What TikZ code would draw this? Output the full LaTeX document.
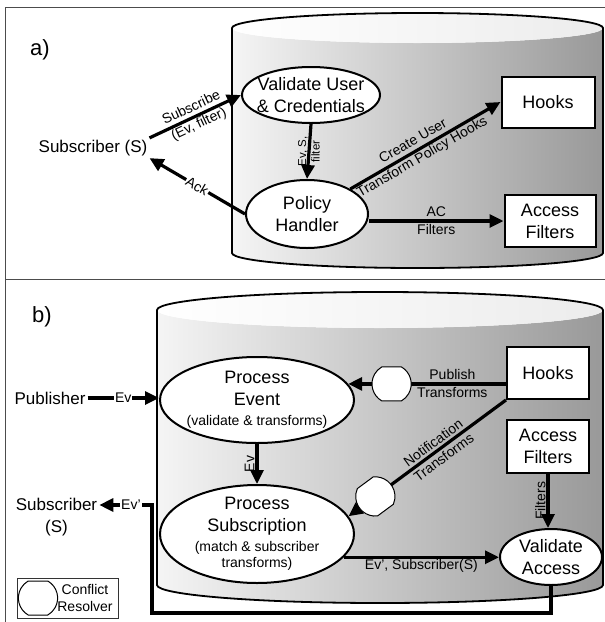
\documentclass[tikz,border=0pt]{standalone}
\usepackage{fontspec}
\setmainfont{Liberation Sans}
\usetikzlibrary{arrows.meta,shapes.geometric,shapes.misc}

\begin{document}
\begin{tikzpicture}[x=1pt,y=1pt,
		bigfont/.style={font=\fontsize{18}{22}\selectfont},
		outer/.style={font=\fontsize{17}{22}\selectfont, align=center, inner sep=2pt},
		lbl/.style={font=\fontsize{14}{18}\selectfont, align=center, inner sep=1pt},
		smalllbl/.style={font=\fontsize{11.5}{13.5}\selectfont, align=center, inner sep=1pt},
		proc/.style={ellipse, draw, line width=2pt, fill=white, inner sep=0pt, align=center, bigfont},
		store/.style={rectangle, draw, line width=2pt, fill=white, inner sep=0pt, align=center, bigfont},
		arr/.style={line width=3.2pt, -{Triangle[length=14pt,width=13pt]}},
		cr/.style={rounded rectangle, rounded rectangle arc length=120, draw, line width=1pt, fill=white, minimum width=32pt, minimum height=34pt, inner sep=0pt},
		panelline/.style={draw=black!70, line width=1pt}]
		\useasboundingbox (0,0) rectangle (605,-622);
		\draw[panelline] (608,-7) -- (5,-7) -- (5,-630); %枠
		\draw[panelline] (5,-279) -- (608,-279);
		% cylinder a
		\shade[left color=gray!8, right color=gray!80] (232,-28) -- (232,-253) arc[start angle=180, end angle=360, x radius=185.5, y radius=15] -- (603,-28) arc[start angle=0, end angle=-180, x radius=185.5, y radius=15] -- cycle;
		\shade[left color=white, right color=gray!15] (417.5,-28) ellipse[x radius=185.5, y radius=15];
		\draw[line width=1.8pt, line join=round] (232,-253) -- (232,-28) arc[start angle=180, end angle=0, x radius=185.5, y radius=15] -- (603,-253) arc[start angle=0, end angle=-180, x radius=185.5, y radius=15];
		% cylinder b
		\shade[left color=gray!8, right color=gray!80] (157,-310) -- (157,-585) arc[start angle=180, end angle=360, x radius=223, y radius=18] -- (603,-310) arc[start angle=0, end angle=-180, x radius=223, y radius=18] -- cycle;
		\shade[left color=white, right color=gray!15] (380,-310) ellipse[x radius=223, y radius=18];
		\draw[line width=1.8pt, line join=round] (157,-585) -- (157,-310) arc[start angle=180, end angle=0, x radius=223, y radius=18] -- (603,-585) arc[start angle=0, end angle=-180, x radius=223, y radius=18];

		\node[font=\fontsize{22}{24}\selectfont] (la) at (40,-50) {a)}; %a
		\node[outer] (suba) at (93,-148) {Subscriber (S)};
		\node[proc, minimum width=138pt, minimum height=56pt, inner xsep=-6pt] (vu) at (311,-95) {Validate User\\\& Credentials};
		\node[proc, minimum width=122pt, minimum height=68pt] (ph) at (307,-214) {Policy\\Handler};
		\node[store, minimum width=93pt, minimum height=51pt] (hka) at (548,-102) {Hooks};
		\node[store, minimum width=91pt, minimum height=52pt] (afa) at (550,-221) {Access\\Filters};
		\draw[arr] (suba.north east) -- node[lbl, sloped] {Subscribe\\(Ev, filter)} (vu.west);
		\draw[arr] (ph.west) -- node[lbl, sloped, fill=white] {Ack} (suba.south east);
		\draw[arr] (vu.south) -- node[smalllbl, rotate=90] {Ev, S,\\filter} (ph.north);
		\draw[arr] (ph.30) -- node[lbl, sloped, pos=0.45] {Create User\\Transform Policy Hooks} (hka.west);
		\draw[arr] (afa.west -| ph.east) -- node[lbl] {AC\\Filters} (afa.west);

		\node[font=\fontsize{22}{24}\selectfont] (lb) at (42,-317) {b)}; %b
		\node[outer] (pub) at (50,-398) {Publisher};
		\node[outer] (subb) at (56.5,-517.5) {Subscriber\\(S)};
		\node[proc, minimum width=194pt, minimum height=86pt, inner xsep=-2pt] (pe) at (257,-400) {Process\\Event\\[-2pt]{\fontsize{14}{16}\selectfont (validate \& transforms)}};
		\node[proc, minimum width=194pt, minimum height=98pt, inner ysep=-3pt] (ps) at (257,-534) {Process\\Subscription\\[-2pt]{\fontsize{14}{16}\selectfont (match \& subscriber}\\[-6pt]{\fontsize{14}{16}\selectfont transforms)}};
		\node[store, minimum width=82pt, minimum height=52pt] (hkb) at (548,-373) {Hooks};
		\node[store, minimum width=82pt, minimum height=53pt] (afb) at (548,-446) {Access\\Filters};
		\node[proc, minimum width=102pt, minimum height=56pt] (va) at (551,-557) {Validate\\Access};
		\draw[arr] (pub) -- node[lbl, fill=white] {Ev} (pub -| pe.west);
		\draw[arr] (hkb.west |- pe.10) -- node[cr, pos=0.725] (cr1) {} node[lbl, pos=0.34] {Publish\\Transforms} (pe.10);
		\draw[arr] (hkb.south west) -- node[cr, sloped, pos=0.83] (cr2) {} node[lbl, sloped, pos=0.43] {Notification\\Transforms} (ps.11);
		\draw[arr] (pe.south) -- node[lbl, rotate=90, above] {Ev} (ps.north);
		\draw[arr] (ps.-15) -- node[lbl, below] {Ev', Subscriber(S)} (ps.-15 -| va.west);
		\draw[arr] (afb.south) -- node[lbl, rotate=90, above] {Filters} (afb.south |- va.north);
		\draw[arr] (va.south) |- (152,-613) |- node[lbl, fill=white, pos=0.7] {Ev'} ([yshift=12.5pt]subb.east); %Ev'

		\draw[line width=1pt, draw=black!80] (17,-578) rectangle (118,-618); %凡例
		\node[cr] (crl) at (38,-598) {};
		\node[lbl, font=\fontsize{14}{17}\selectfont] (legt) at (85,-598) {Conflict\\Resolver};
	\end{tikzpicture}
\end{document}
